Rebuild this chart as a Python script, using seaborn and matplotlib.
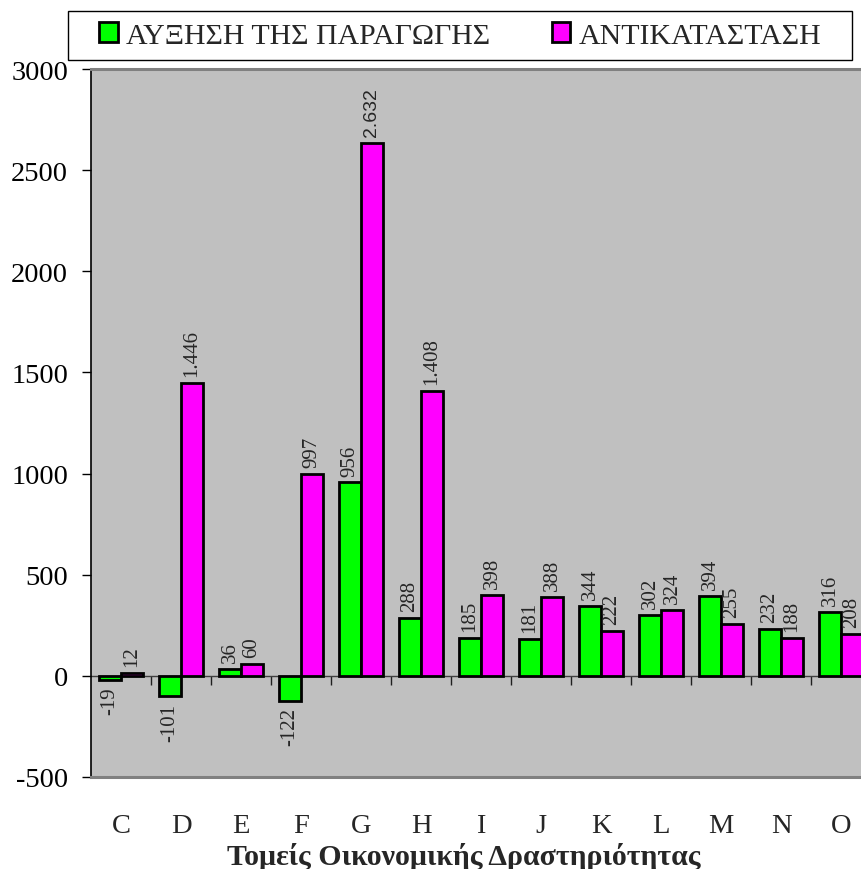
import numpy as np
import pandas as pd
import matplotlib
matplotlib.use("Agg")
import matplotlib.pyplot as plt
from matplotlib.patches import Patch, Rectangle
import seaborn as sns

# data
sectors = ["C", "D", "E", "F", "G", "H", "I", "J", "K", "L", "M", "N", "O"]
growth = [-19, -101, 36, -122, 956, 288, 185, 181, 344, 302, 394, 232, 316]
replacement = [12, 1446, 60, 997, 2632, 1408, 398, 388, 222, 324, 255, 188, 208]
series_names = ["ΑΥΞΗΣΗ ΤΗΣ ΠΑΡΑΓΩΓΗΣ", "ΑΝΤΙΚΑΤΑΣΤΑΣΗ"]
colors = ["#00FF00", "#FF00FF"]
y_ticks = [-500, 0, 500, 1000, 1500, 2000, 2500, 3000]
x_title = "Τομείς Οικονομικής Δραστηριότητας"

df = pd.DataFrame({
    "sector": sectors * 2,
    "series": [series_names[0]] * len(sectors) + [series_names[1]] * len(sectors),
    "value": growth + replacement,
})

sns.set_style("white")
plt.rcParams["font.family"] = ["Liberation Serif", "DejaVu Serif"]
plt.rcParams["axes.unicode_minus"] = False

W, H = 861, 870
fig = plt.figure(figsize=(W / 100, H / 100), dpi=100)
ax = fig.add_axes([91 / W, (H - 778) / H, 780 / W, 708 / H])
ax.set_facecolor("#C0C0C0")

sns.barplot(data=df, x="sector", y="value", hue="series", palette=colors,
            saturation=1, width=0.733, edgecolor="black", linewidth=2,
            errorbar=None, legend=False, ax=ax)

ax.set_xlim(-0.5, len(sectors) - 0.5)
ax.set_ylim(-500, 3000)
ax.set_yticks(y_ticks)
ax.tick_params(axis="y", labelsize=20.5, length=6.5, width=1, direction="out",
               pad=10, left=True, colors="black")
ax.tick_params(axis="x", labelsize=20.5, length=0, pad=26)
ax.set_ylabel("")
ax.set_xlabel(x_title, fontsize=21.5, fontweight="bold")
ax.xaxis.set_label_coords((464 - 91) / 780, (778 - 857) / 708)
ax.xaxis.label.set_va("center")

for side in ["top", "bottom"]:
    ax.spines[side].set_color("#808080")
    ax.spines[side].set_linewidth(2.2)
ax.spines["left"].set_color("black")
ax.spines["left"].set_linewidth(1.2)
ax.spines["right"].set_visible(False)

# zero line with group separator ticks
secax = ax.secondary_xaxis(0, transform=ax.transData)
secax.set_xticks(np.arange(0.5, len(sectors) - 0.5, 1))
secax.tick_params(length=6.5, width=1, direction="out", labelbottom=False,
                  colors="#202020")
secax.spines["bottom"].set_color("#404040")
secax.spines["bottom"].set_linewidth(1)


def fmt(v):
    return f"{v:,}".replace(",", ".")


for cont, vals in zip(ax.containers, [growth, replacement]):
    texts = ax.bar_label(cont, labels=[fmt(v) for v in vals], rotation=90,
                         padding=5, fontsize=15)
    for t, v in zip(texts, vals):
        if v == max(replacement):
            t.set_family("Liberation Sans")
            t.set_fontsize(14)

# legend
handles = [Patch(facecolor=c, edgecolor="black", linewidth=2) for c in colors]
fig.legend(handles, series_names, loc="center left",
           bbox_to_anchor=(99 / W, 1 - 36.5 / H), ncol=2, frameon=False,
           fontsize=21.5, handlelength=0.63, handleheight=0.63,
           handletextpad=0.28, columnspacing=2.05, borderpad=0, borderaxespad=0)
fig.add_artist(Rectangle((68 / W, 1 - 61 / H), 784 / W, 49 / H,
                         transform=fig.transFigure, facecolor="white",
                         edgecolor="black", linewidth=1, zorder=-1))

fig.savefig("out.png", dpi=100)
